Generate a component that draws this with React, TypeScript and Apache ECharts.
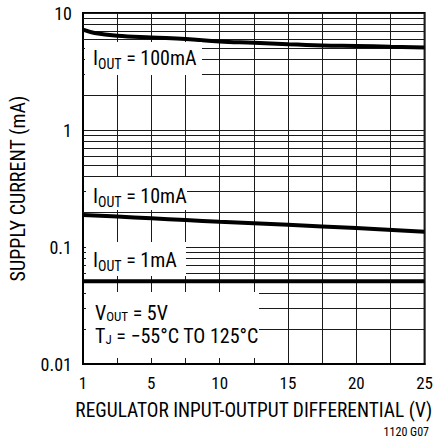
import React, { useEffect, useRef } from "react";
import * as echarts from "echarts";

// X positions on the chart's linear axis (the origin is labelled "1" V)
const X_TICK_LABELS: Record<number, string> = { 0: "1", 5: "5", 10: "10", 15: "15", 20: "20", 25: "25" };
const Y_TICK_LABELS: Record<string, string> = { "0.01": "0.01", "0.1": "0.1", "1": "1", "10": "10" };

const X_100MA = [0, 0.85, 2.5, 5, 7.5, 10, 12.5, 15, 17.5, 20, 22.5, 25];
const I_100MA = [7.2, 6.75, 6.4, 6.18, 6.0, 5.72, 5.57, 5.4, 5.28, 5.22, 5.15, 5.08];

const X_10MA = [0, 2.5, 5, 7.5, 10, 15, 20, 25];
const I_10MA = [0.188, 0.182, 0.176, 0.17, 0.1645, 0.155, 0.145, 0.135];

const X_1MA = [0, 25];
const I_1MA = [0.051, 0.051];

// minor log grid lines (2..9 in each decade)
const MINOR_GRID = [
  0.02, 0.03, 0.04, 0.05, 0.06, 0.07, 0.08, 0.09,
  0.2, 0.3, 0.4, 0.5, 0.6, 0.7, 0.8, 0.9,
  2, 3, 4, 5, 6, 7, 8, 9,
];

const FONT = '"Liberation Sans Narrow", "Arial Narrow", "Roboto Condensed", "DejaVu Sans Condensed", sans-serif';
const GRID_COLOR = "#1a1a1a";

function zip(xs: number[], ys: number[]) {
  return xs.map((x, i) => [x, ys[i]]);
}

function subText(main: string, sub: string, rest: string, x: number, y: number, subSize = 14, drop = 9) {
  return {
    type: "text",
    x,
    y,
    z: 60,
    silent: true,
    style: {
      text: `{m|${main}}{s|${sub}}{m|${rest}}`,
      fill: "#000",
      rich: {
        m: { fontSize: 20, fontFamily: FONT, lineHeight: 20, fill: "#000" },
        s: {
          fontSize: subSize,
          fontFamily: FONT,
          lineHeight: 10,
          verticalAlign: "top",
          padding: [drop, 0, 0, 0],
          fill: "#000",
        },
      },
    },
  };
}

function box(x: number, y: number, w: number, h: number) {
  return {
    type: "rect",
    z: 50,
    silent: true,
    shape: { x, y, width: w, height: h },
    style: { fill: "#fff" },
  };
}

export default function App() {
  const ref = useRef<HTMLDivElement>(null);
  useEffect(() => {
    if (!ref.current) return;
    const chart = echarts.init(ref.current, null, { renderer: "svg" });
    const lineStyle = { color: "#000", width: 4 };
    chart.setOption({
      animation: false,
      backgroundColor: "#fff",
      grid: {
        left: 73,
        right: 11,
        top: 13,
        bottom: 78,
        show: true,
        borderColor: "#000",
        borderWidth: 2,
        backgroundColor: "transparent",
      },
      xAxis: {
        type: "value",
        min: 0,
        max: 25,
        interval: 2.5,
        name: "REGULATOR INPUT-OUTPUT DIFFERENTIAL (V)",
        nameLocation: "middle",
        nameGap: 37,
        nameTextStyle: { fontFamily: FONT, fontSize: 19.4, color: "#000" },
        axisLine: { show: true, lineStyle: { color: "#000", width: 2 } },
        axisTick: { show: false },
        axisLabel: {
          margin: 10,
          fontFamily: FONT,
          fontSize: 17,
          color: "#000",
          formatter: (v: number) => X_TICK_LABELS[v] ?? "",
        },
        splitLine: { show: true, lineStyle: { color: GRID_COLOR, width: 1 } },
      },
      yAxis: {
        type: "log",
        logBase: 10,
        min: 0.01,
        max: 10,
        name: "SUPPLY CURRENT (mA)",
        nameLocation: "middle",
        nameGap: 55,
        nameTextStyle: { fontFamily: FONT, fontSize: 20, color: "#000" },
        axisLine: { show: true, lineStyle: { color: "#000", width: 2 } },
        axisTick: { show: false },
        axisLabel: {
          margin: 11,
          fontFamily: FONT,
          fontSize: 18,
          color: "#000",
          formatter: (v: number) => Y_TICK_LABELS[String(+v.toPrecision(3))] ?? String(v),
        },
        splitLine: { show: true, lineStyle: { color: GRID_COLOR, width: 1 } },
        minorSplitLine: { show: false },
      },
      series: [
        {
          type: "line",
          name: "grid",
          data: [],
          silent: true,
          z: 1,
          markLine: {
            silent: true,
            symbol: ["none", "none"],
            label: { show: false },
            lineStyle: { type: "solid", color: GRID_COLOR, width: 1 },
            emphasis: { disabled: true },
            data: MINOR_GRID.map((v) => ({ yAxis: v })),
          },
        },
        {
          type: "line",
          name: "IOUT = 100mA",
          data: zip(X_100MA, I_100MA),
          smooth: 0.4,
          showSymbol: false,
          lineStyle,
          z: 5,
        },
        {
          type: "line",
          name: "IOUT = 10mA",
          data: zip(X_10MA, I_10MA),
          smooth: 0.4,
          showSymbol: false,
          lineStyle,
          z: 5,
        },
        {
          type: "line",
          name: "IOUT = 1mA",
          data: zip(X_1MA, I_1MA),
          showSymbol: false,
          lineStyle,
          z: 5,
        },
      ],
      graphic: [
        box(85, 42, 117, 33),
        box(86, 177, 101, 33),
        box(86, 242, 100, 34),
        box(86, 292, 173, 66),
        subText("I", "OUT", " = 100mA", 93, 48),
        subText("I", "OUT", " = 10mA", 93, 186),
        subText("I", "OUT", " = 1mA", 93, 250),
        subText("V", "OUT", " = 5V", 95, 303, 13, 7),
        subText("T", "J", " = \u221255\u00b0C TO 125\u00b0C", 95, 326, 13, 7),
        {
          type: "text",
          right: 7,
          top: 426,
          z: 60,
          style: { text: "1120 G07", fontFamily: FONT, fontSize: 12, fill: "#000" },
        },
      ],
    });
    return () => chart.dispose();
  }, []);
  return <div ref={ref} style={{ position: "absolute", left: 0, top: 0, width: 436, height: 442 }} />;
}
